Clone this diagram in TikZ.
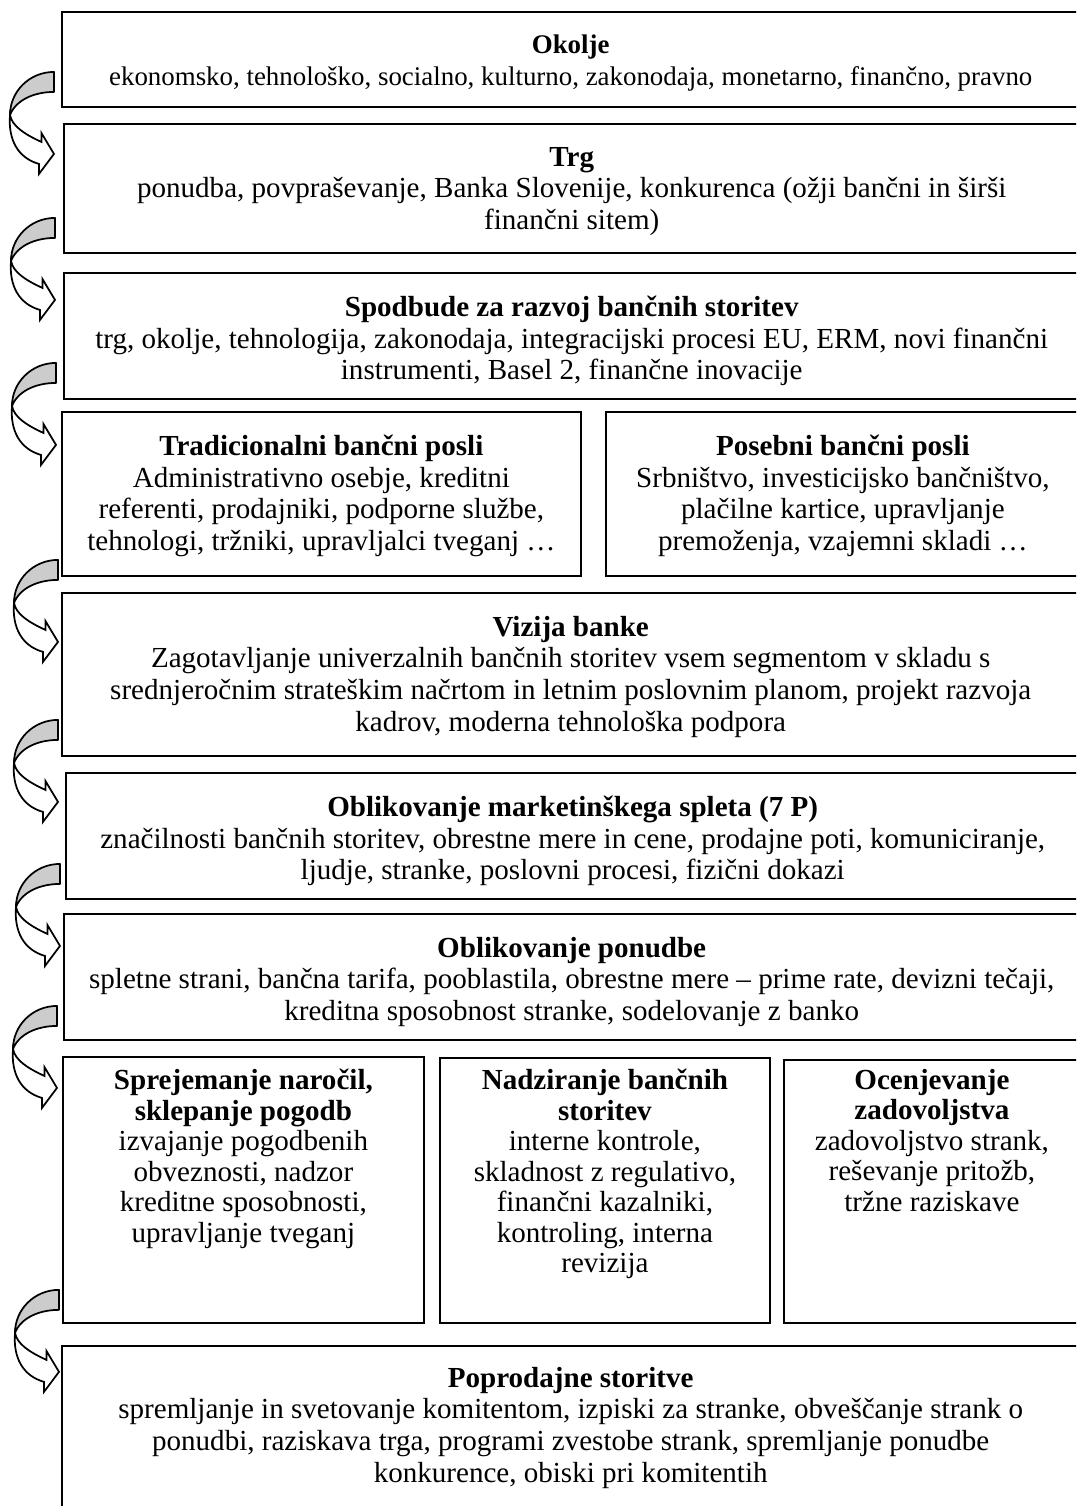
\documentclass[tikz,border=0pt]{standalone}
\usepackage{fontspec}
\setmainfont{Liberation Serif}
\usetikzlibrary{calc}
\newdimen\px \px=0.4608pt
\newcommand\boxtext[4][23]{\parbox[c][#3\px][t]{#2\px}{\centering\vspace*{#1\px}#4\par}}
\def\bendarrow#1#2#3{%
  \begin{scope}[shift={($(#1.south west)+(#2,#3)$)}]
    \draw[back] (0,0) .. controls (-25,0) and (-44,20) .. (-44,43)
      .. controls (-38,28) and (-20,20) .. (0,20) -- cycle;
    \draw[front] (-44,43) .. controls (-46,68) and (-36,86) .. (-15,92)
      -- (-15,102) -- (0,82) -- (-12.6,61) -- (-12.6,70)
      .. controls (-30,62) and (-42,54) .. (-44,43) -- cycle;
  \end{scope}}

\begin{document}
\begin{tikzpicture}[x=0.0162cm, y=-0.0162cm,
    box/.style={draw, line width=0.9pt, inner sep=0pt, outer sep=0pt, anchor=north west,
      font=\fontsize{13.4pt}{14.6pt}\selectfont},
    cell/.style={box, font=\fontsize{13.4pt}{14.1pt}\selectfont},
    back/.style={draw, line width=0.8pt, fill=black!20, line join=round},
    front/.style={draw, line width=0.8pt, fill=white, line join=miter}]
  \clip (0,0) rectangle (1076,1506);

  %%% boxes
  \node[box, font=\fontsize{12.4pt}{14.6pt}\selectfont] (okolje) at (62,12) {\boxtext{1018}{95}{\textbf{Okolje}\\
    ekonomsko, tehnološko, socialno, kulturno, zakonodaja, monetarno, finančno, pravno}};
  \node[box] (trg) at (64,124) {\boxtext{1016}{129}{\textbf{Trg}\\
    ponudba, povpraševanje, Banka Slovenije, konkurenca (ožji bančni in širši\\
    finančni sitem)}};
  \node[box] (spodbude) at (64,273) {\boxtext{1016}{126}{\textbf{Spodbude za razvoj bančnih storitev}\\
    trg, okolje, tehnologija, zakonodaja, integracijski procesi EU, ERM, novi finančni\\
    instrumenti, Basel 2, finančne inovacije}};
  \node[box] (tradicionalni) at (62,412) {\boxtext{519}{164}{\textbf{Tradicionalni bančni posli}\\
    Administrativno osebje, kreditni\\
    referenti, prodajniki, podporne službe,\\
    tehnologi, tržniki, upravljalci tveganj …}};
  \node[box] (posebni) at (606,412) {\boxtext{474}{164}{\textbf{Posebni bančni posli}\\
    Srbništvo, investicijsko bančništvo,\\
    plačilne kartice, upravljanje\\
    premoženja, vzajemni skladi …}};
  \node[box] (vizija) at (62,593) {\boxtext{1018}{163}{\textbf{Vizija banke}\\
    Zagotavljanje univerzalnih bančnih storitev vsem segmentom v skladu s\\
    srednjeročnim strateškim načrtom in letnim poslovnim planom, projekt razvoja\\
    kadrov, moderna tehnološka podpora}};
  \node[box] (splet) at (66,773) {\boxtext{1014}{126}{\textbf{Oblikovanje marketinškega spleta (7 P)}\\
    značilnosti bančnih storitev, obrestne mere in cene, prodajne poti, komuniciranje,\\
    ljudje, stranke, poslovni procesi, fizični dokazi}};
  \node[box] (ponudba) at (64,914) {\boxtext{1016}{126}{\textbf{Oblikovanje ponudbe}\\
    spletne strani, bančna tarifa, pooblastila, obrestne mere – prime rate, devizni tečaji,\\
    kreditna sposobnost stranke, sodelovanje z banko}};
  \node[cell] (narocila) at (63,1057) {\boxtext[12]{361}{266}{\textbf{Sprejemanje naročil,}\\
    \textbf{sklepanje pogodb}\\
    izvajanje pogodbenih\\
    obveznosti, nadzor\\
    kreditne sposobnosti,\\
    upravljanje tveganj}};
  \node[cell] (nadzor) at (440,1058) {\boxtext[11]{330}{265}{\textbf{Nadziranje bančnih}\\
    \textbf{storitev}\\
    interne kontrole,\\
    skladnost z regulativo,\\
    finančni kazalniki,\\
    kontroling, interna\\
    revizija}};
  \node[cell] (ocena) at (784,1060) {\boxtext[9]{296}{263}{\textbf{Ocenjevanje}\\
    \textbf{zadovoljstva}\\
    zadovoljstvo strank,\\
    reševanje pritožb,\\
    tržne raziskave}};
  \node[box] (poprodaja) at (62,1346) {\boxtext[21]{1018}{180}{\textbf{Poprodajne storitve}\\
    spremljanje in svetovanje komitentom, izpiski za stranke, obveščanje strank o\\
    ponudbi, raziskava trga, programi zvestobe strank, spremljanje ponudbe\\
    konkurence, obiski pri komitentih}};

  %%% bent arrows
  \bendarrow{okolje}{-8}{-35}
  \bendarrow{trg}{-9}{-35}
  \bendarrow{spodbude}{-8}{-36}
  \bendarrow{tradicionalni}{-4}{-16}
  \bendarrow{vizija}{-4}{-36}
  \bendarrow{splet}{-6}{-35}
  \bendarrow{ponudba}{-7}{-34}
  \bendarrow{narocila}{-4}{-33}
\end{tikzpicture}
\end{document}
